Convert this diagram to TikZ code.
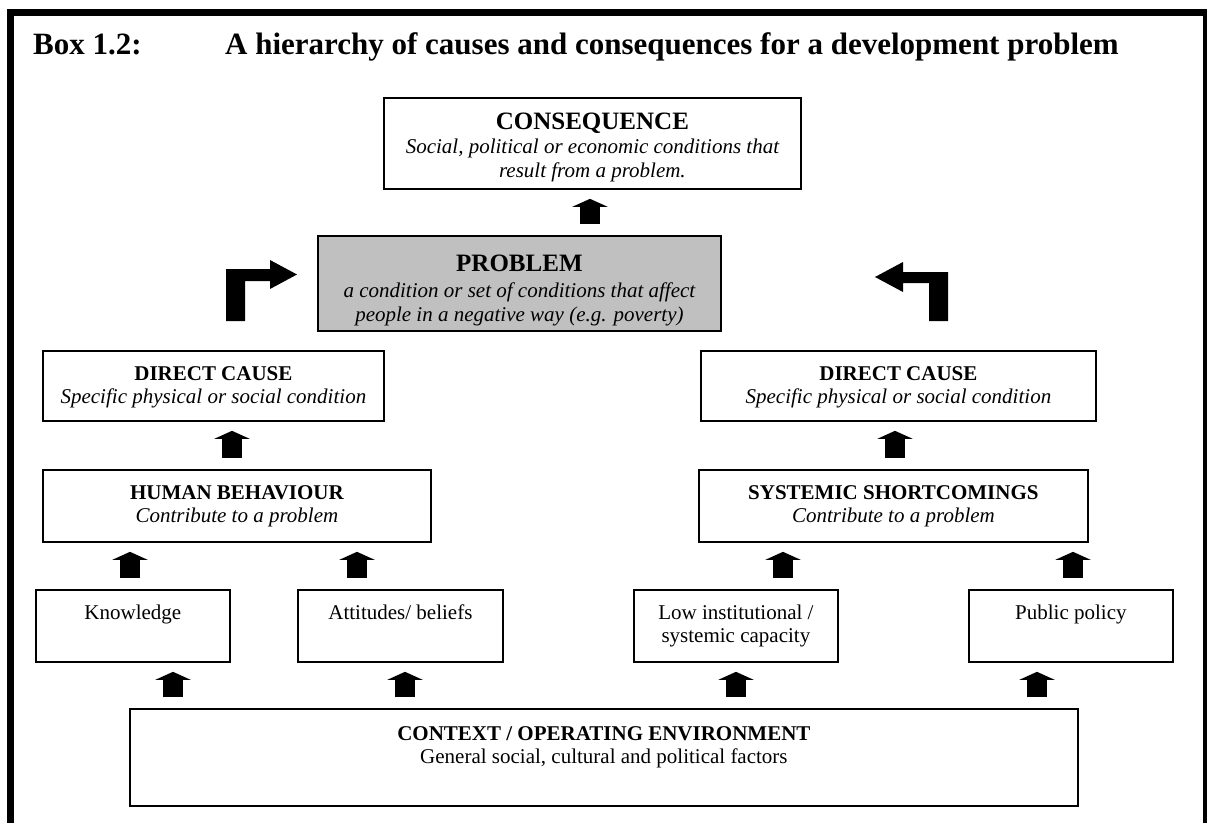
\documentclass[tikz,border=0pt]{standalone}
\usepackage{fontspec}
\setmainfont{Liberation Serif}
\usetikzlibrary{arrows.meta}
\definecolor{probfill}{RGB}{192,192,192}
\newcommand\ttlsz{\fontsize{31}{36}\selectfont\bfseries}
\newcommand\hdbig{\fontsize{25}{23}\selectfont\bfseries}
\newcommand\hdmid{\fontsize{21}{23}\selectfont\bfseries}
\begin{document}
\begin{tikzpicture}[x=1pt,y=-1pt,
  box/.style={draw, line width=1.8pt, anchor=north west, inner sep=0pt,
              align=center, font=\fontsize{21}{23}\selectfont},
  blk/.style={line width=20pt, -{Triangle[width=35pt,length=8pt]},
              shorten <=11pt, shorten >=9pt}]
\useasboundingbox (0,0) rectangle (1208,823);

% outer frame, open at the bottom
\fill (7,9) rectangle (1207,16);
\fill (7,9) rectangle (14,823);
\fill (1203,9) rectangle (1207,823);

% heading
\node[anchor=base west, inner sep=0pt] (title) at (33,54)
  {\ttlsz\makebox[192pt][l]{Box 1.2:}A hierarchy of causes and consequences for a development problem};

% boxes
\node[box, minimum width=417pt, text height=80pt, text depth=11pt] (cons) at (383,97)
  {{\hdbig CONSEQUENCE}\\[1pt]\itshape Social, political or economic conditions that\\[1pt]\itshape result from a problem.};
\node[box, fill=probfill, minimum width=403pt, text height=86pt, text depth=9pt] (prob) at (317,235)
  {{\hdbig PROBLEM}\\[3pt]\itshape a condition or set of conditions that affect\\[1pt]\itshape people in a negative way (e.g. poverty)};

\node[box, minimum width=341pt, text height=53pt, text depth=17pt] (dcL) at (42,350)
  {{\hdmid DIRECT CAUSE}\\\itshape Specific physical or social condition};
\node[box, minimum width=395pt, text height=53pt, text depth=17pt] (dcR) at (700,350)
  {{\hdmid DIRECT CAUSE}\\\itshape Specific physical or social condition};

\node[box, minimum width=388pt, text height=53pt, text depth=19pt] (hb) at (42,469)
  {{\hdmid HUMAN BEHAVIOUR}\\\itshape Contribute to a problem};
\node[box, minimum width=389pt, text height=53pt, text depth=19pt] (ss) at (698,469)
  {{\hdmid SYSTEMIC SHORTCOMINGS}\\\itshape Contribute to a problem};

\node[box, minimum width=194pt, text height=30pt, text depth=42pt] (knw) at (35,589) {Knowledge};
\node[box, minimum width=205pt, text height=30pt, text depth=42pt] (att) at (297,589) {Attitudes/ beliefs};
\node[box, minimum width=204pt, text height=53pt, text depth=19pt] (low) at (633,589)
  {Low institutional /\\systemic capacity};
\node[box, minimum width=204pt, text height=30pt, text depth=42pt] (pub) at (968,589) {Public policy};

\node[box, minimum width=948pt, text height=55pt, text depth=42pt] (ctx) at (129,708)
  {{\hdmid CONTEXT / OPERATING ENVIRONMENT}\\General social, cultural and political factors};

% x positions of the block arrows
\coordinate (xc) at (590,0);
\coordinate (xl) at (232,0);
\coordinate (xr) at (895,0);
\coordinate (x1) at (130,0);
\coordinate (x2) at (357,0);
\coordinate (x3) at (783,0);
\coordinate (x4) at (1073,0);
\coordinate (x5) at (173,0);
\coordinate (x6) at (405,0);
\coordinate (x7) at (736,0);
\coordinate (x8) at (1037,0);

% block arrows
\draw[blk] (prob.north -| xc) -- (cons.south -| xc);
\draw[blk] (hb.north -| xl) -- (dcL.south -| xl);
\draw[blk] (ss.north -| xr) -- (dcR.south -| xr);
\draw[blk] (knw.north -| x1) -- (hb.south -| x1);
\draw[blk] (att.north -| x2) -- (hb.south -| x2);
\draw[blk] (low.north -| x3) -- (ss.south -| x3);
\draw[blk] (pub.north -| x4) -- (ss.south -| x4);
\draw[blk] (ctx.north -| x5) -- (knw.south -| x5);
\draw[blk] (ctx.north -| x6) -- (att.south -| x6);
\draw[blk] (ctx.north -| x7) -- (low.south -| x7);
\draw[blk] (ctx.north -| x8) -- (pub.south -| x8);

% bent arrows turning towards the problem
\fill (226,321) -- (226,269) -- (270,269) -- (270,260) -- (297,274.5)
      -- (270,289) -- (270,281) -- (245,281) -- (245,321) -- cycle;
\fill (948,321) -- (948,272) -- (903,272) -- (903,262) -- (875,277)
      -- (903,292) -- (903,283) -- (929,283) -- (929,321) -- cycle;
\end{tikzpicture}
\end{document}
